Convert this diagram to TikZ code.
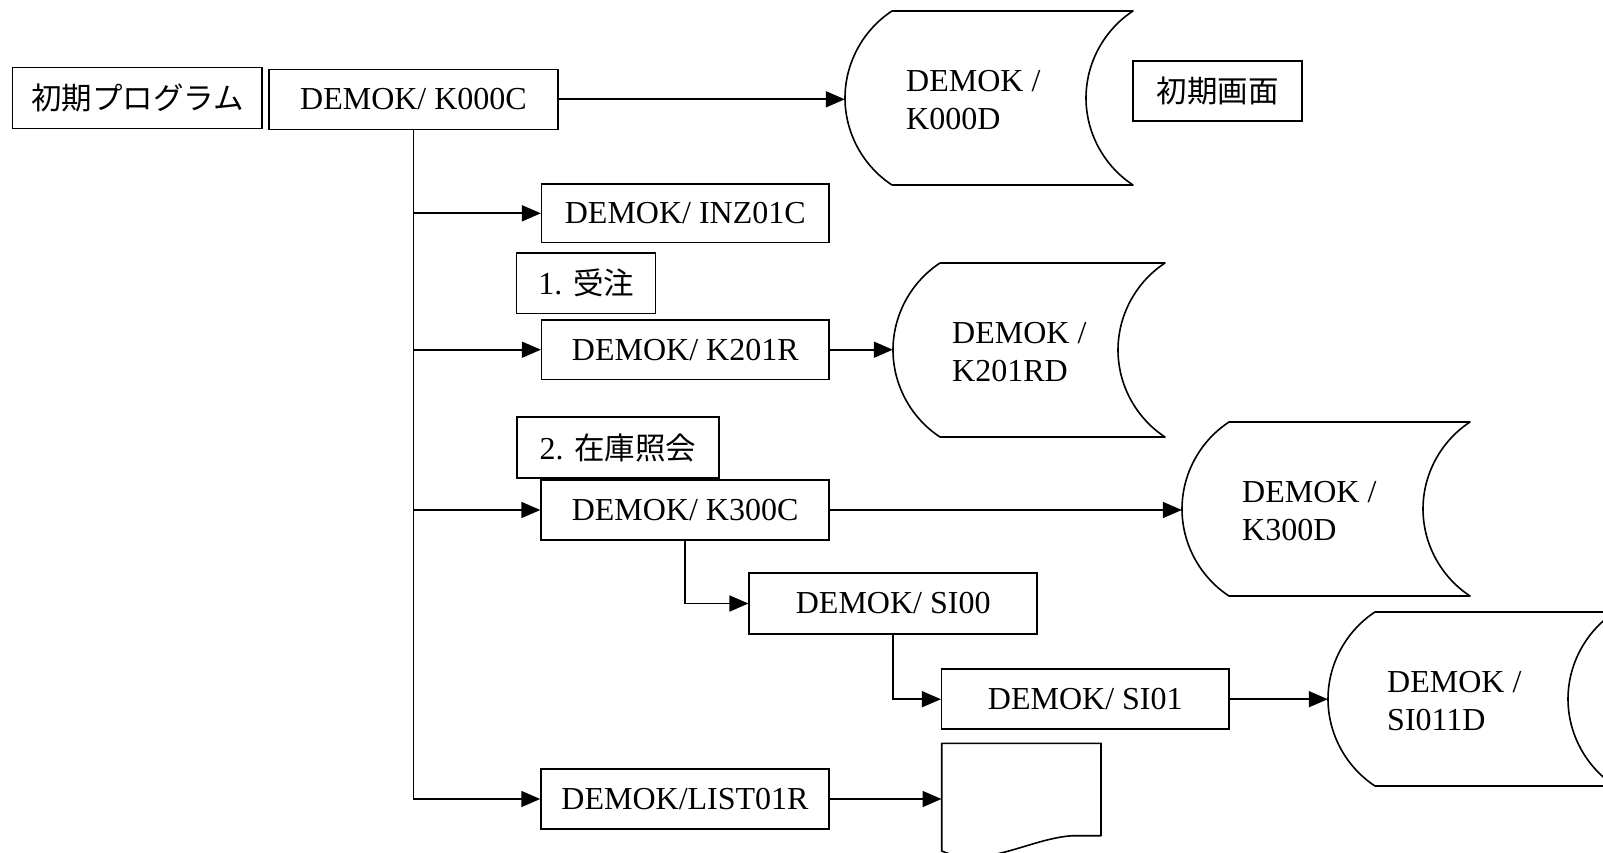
\documentclass[tikz,border=0pt]{standalone}
\usepackage{fontspec}
\setmainfont{Liberation Serif}
\newfontfamily\jp{Noto Sans CJK JP}
\usetikzlibrary{arrows.meta,calc}
\newcommand\stshape[4]{%
 \draw[shp] ({#1+47},#2) -- (#3,#2)
   .. controls ({#3-29},{#2+19}) and ({#3-47},{(#2+#4)/2-35}) .. ({#3-47},{(#2+#4)/2})
   .. controls ({#3-47},{(#2+#4)/2+35}) and ({#3-29},{#4-19}) .. (#3,#4)
   -- ({#1+47},#4)
   .. controls ({#1+18},{#4-19}) and (#1,{(#2+#4)/2+35}) .. (#1,{(#2+#4)/2})
   .. controls (#1,{(#2+#4)/2-35}) and ({#1+18},{#2+19}) .. cycle;}
\begin{document}
\begin{tikzpicture}[x=1pt,y=-1pt,
  box/.style={draw, line width=1.5pt, minimum width=288pt, minimum height=60pt, inner sep=0pt,
    font=\fontsize{32}{38}\selectfont},
  jpbox/.style={box, font=\jp\fontsize{30.5}{36}\selectfont},
  stxt/.style={inner sep=0pt, align=left, anchor=west, font=\fontsize{32}{38}\selectfont},
  area/.style={inner sep=0pt},
  conn/.style={line width=1.7pt, -{Triangle[length=19pt,width=16pt]}},
  trunk/.style={line width=1.9pt},
  shp/.style={line width=1.6pt, line join=round}]
\useasboundingbox (0,0) rectangle (1603,853);
\clip (0,0) rectangle (1603,853);

% rectangles
\node[jpbox, minimum width=249.5pt, minimum height=61pt] (prog) at (137.3,98) {初期プログラム};
\node[box, minimum width=289pt] (k000c) at (413.5,99.3) {DEMOK/ K000C};
\node[jpbox, minimum width=169pt] (gamen) at (1217.5,91) {初期画面};
\node[box, minimum width=287.3pt, minimum height=58.7pt] (inz) at (685.3,213.3) {DEMOK/ INZ01C};
\node[box, minimum width=139pt, minimum height=60.5pt] (juchu) at (586.2,283.3) {1. {\jp\fontsize{30.5}{36}\selectfont 受注}};
\node[box, minimum width=287.3pt, minimum height=59.3pt] (k201r) at (685.3,349.7) {DEMOK/ K201R};
\node[box, minimum width=202pt, minimum height=61pt] (zaiko) at (618,447.5) {2. {\jp\fontsize{30.5}{36}\selectfont 在庫照会}};
\node[box] (k300c) at (685.1,510) {DEMOK/ K300C};
\node[box, minimum height=61pt] (si00) at (893.2,603.5) {DEMOK/ SI00};
\node[box, minimum width=287.3pt] (si01) at (1085.3,699.2) {DEMOK/ SI01};
\node[box] (list) at (685,799) {DEMOK/LIST01R};

% stored data shapes
\stshape{845}{11}{1133}{185}
\node[area, minimum width=288pt, minimum height=174pt] (k000d) at (989,98) {};
\node[stxt] (k000dt) at (906,100) {DEMOK /\\K000D};

\stshape{893}{263}{1165}{437}
\node[area, minimum width=272pt, minimum height=174pt] (k201rd) at (1029,350) {};
\node[stxt] (k201rdt) at (952,352) {DEMOK /\\K201RD};

\stshape{1182}{422}{1470}{596}
\node[area, minimum width=288pt, minimum height=174pt] (k300d) at (1326,509) {};
\node[stxt] (k300dt) at (1242,511) {DEMOK /\\K300D};

\stshape{1328}{612}{1615}{786}
\node[area, minimum width=287pt, minimum height=174pt] (si011d) at (1471.5,699) {};
\node[stxt] (si011dt) at (1387,701) {DEMOK /\\SI011D};

% document shape
\draw[shp] (941.7,851) -- (941.7,743.3) -- (1101,743.3) -- (1101,835.7) -- (1073,835.7)
  .. controls (1030,838) and (985,870) .. cycle;
\node[area, minimum width=159.3pt, minimum height=113pt] (doc) at (1021.35,799.8) {};

% connectors
\draw[trunk] (k000c.south) -- (k000c.south |- list.west) -- ($(list.west)+(-17,0)$);
\draw[conn] (k000c.south |- inz.west) -- (inz.west);
\draw[conn] (k000c.south |- k201r.west) -- (k201r.west);
\draw[conn] (k000c.south |- k300c.west) -- (k300c.west);
\draw[conn] (k000c.south |- list.west) -- (list.west);
\draw[conn] (k000c.east) -- (k000c.east -| k000d.west);
\draw[conn] (k201r.east) -- (k201r.east -| k201rd.west);
\draw[conn] (k300c.east) -- (k300c.east -| k300d.west);
\draw[conn] (k300c.south) |- (si00.west);
\draw[conn] (si00.south) |- (si01.west);
\draw[conn] (si01.east) -- (si01.east -| si011d.west);
\draw[conn] (list.east) -- (list.east -| doc.west);
\end{tikzpicture}
\end{document}
